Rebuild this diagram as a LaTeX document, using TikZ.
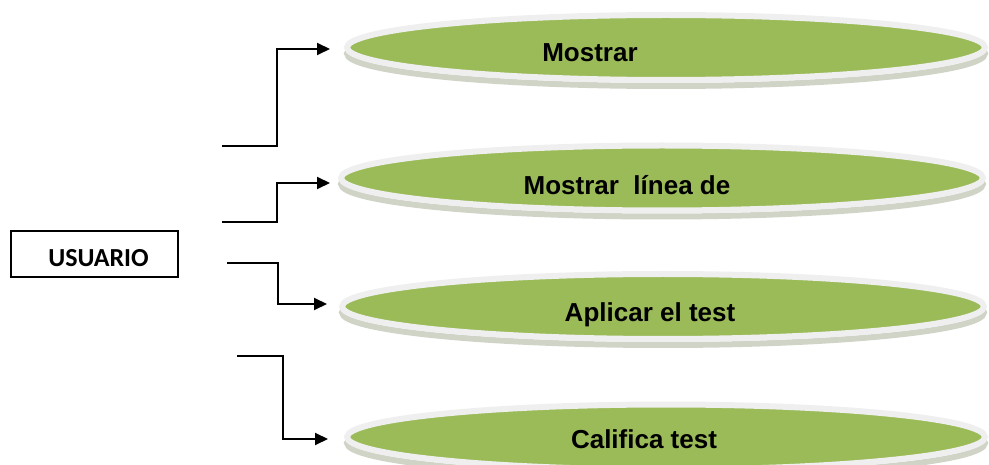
\documentclass[tikz,border=0pt]{standalone}
\usepackage{fontspec}
\setmainfont{Liberation Sans}
\newfontfamily\carlito{Carlito}
\usetikzlibrary{arrows.meta,shapes.geometric}
\definecolor{ovgreen}{HTML}{9BBB59}
\definecolor{rimc}{HTML}{EFEFEF}
\definecolor{shadowc}{HTML}{D0D4C7}
\tikzset{
  oval/.style={ellipse, inner sep=0pt, fill=ovgreen, draw=rimc, line width=6pt,
    preaction={draw=shadowc, line width=6pt, transform canvas={yshift=-6pt}}},
  ovaltext/.style={anchor=base, inner sep=0pt, font=\fontsize{26}{30}\selectfont\bfseries},
  userbox/.style={draw=black, line width=1.5pt, inner sep=0pt, text height=26pt, text depth=0pt,
    minimum width=167pt, minimum height=46pt, font=\carlito\fontsize{26}{30}\selectfont\bfseries},
  conn/.style={draw=black, line width=2pt, -{Triangle[length=13pt,width=12pt]}}
}
\begin{document}
\begin{tikzpicture}[x=1pt,y=-1pt]
\useasboundingbox (0,0) rectangle (989,465);
% ellipses
\node[oval, minimum width=638pt, minimum height=65pt] (e1) at (666,47.5) {};
\node[oval, minimum width=642pt, minimum height=65pt] (e2) at (662,178) {};
\node[oval, minimum width=642pt, minimum height=65pt] (e3) at (663,306.5) {};
\node[oval, minimum width=638pt, minimum height=65pt] (e4) at (666,437) {};
% texts
\node[ovaltext] (t1) at (590,62) {Mostrar};
\node[ovaltext] (t2) at (627,195) {Mostrar~~línea de};
\node[ovaltext] (t3) at (650,322) {Aplicar el test};
\node[ovaltext] (t4) at (644,448) {Califica test};
% user box
\node[userbox] (u) at (94.5,254) {\hspace{8pt}USUARIO};
% connector points
\coordinate (s1) at (222,146); \coordinate (b1) at (277,49);  \coordinate (a1) at (330,49);
\coordinate (s2) at (222,222); \coordinate (b2) at (277,183); \coordinate (a2) at (330,183);
\coordinate (s3) at (227,263); \coordinate (b3) at (278,304); \coordinate (a3) at (327,304);
\coordinate (s4) at (237,356); \coordinate (b4) at (283,439); \coordinate (a4) at (328,439);
\draw[conn] (s1) -| (b1) -- (a1);
\draw[conn] (s2) -| (b2) -- (a2);
\draw[conn] (s3) -| (b3) -- (a3);
\draw[conn] (s4) -| (b4) -- (a4);
\end{tikzpicture}
\end{document}
